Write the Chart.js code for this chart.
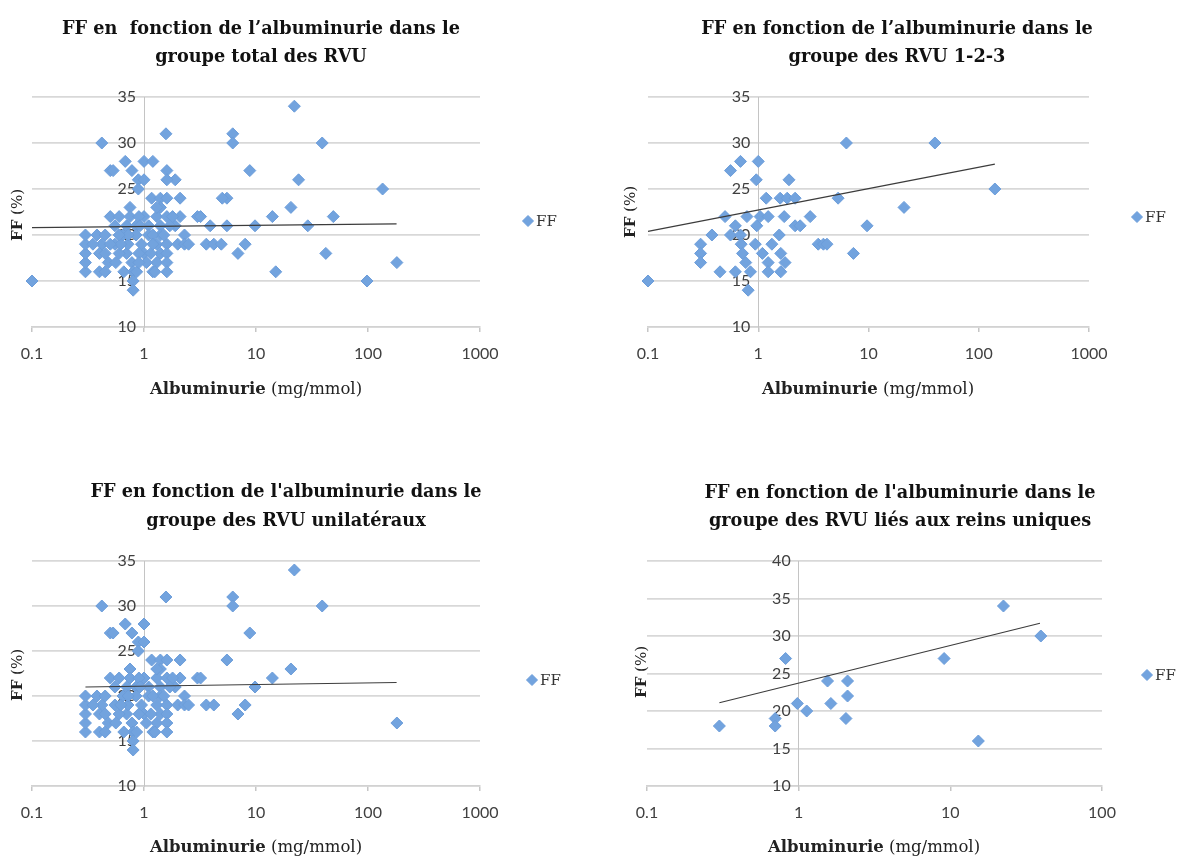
<!DOCTYPE html>
<html><head><meta charset="utf-8">
<script src="https://cdn.jsdelivr.net/npm/chart.js@4.4.1/dist/chart.umd.min.js"></script>
<style>
html,body{margin:0;padding:0;background:#fff;}
body{width:1184px;height:857px;position:relative;overflow:hidden;}
canvas{position:absolute;}
</style></head><body>
<canvas id="c1" width="592" height="420" style="left:0;top:0"></canvas>
<canvas id="c2" width="592" height="420" style="left:592px;top:0"></canvas>
<canvas id="c3" width="592" height="437" style="left:0;top:420px"></canvas>
<canvas id="c4" width="592" height="437" style="left:592px;top:420px"></canvas>
<script>
// ---------- tick labels ----------
const xTicksWide = [0.1, 1, 10, 100, 1000];
const xTicksUnique = [0.1, 1, 10, 100];
const yMaxWide = 35;
const yMaxUnique = 40;

// ---------- unilateral VUR (panel 3) ----------
const unilatAlb = [0.3,0.3,0.3,0.3,0.3,0.38,0.42,0.42,0.4,0.4,0.45,0.45,0.5,0.53,0.5,0.48,0.55,0.6,0.65,0.68,
  0.7,0.7,0.75,0.75,0.72,0.78,0.78,0.8,0.8,0.8,0.85,0.85,0.86,0.89,0.89,1.0,1.0,1.0,0.95,1.0,
  1.1,1.1,1.17,1.3,1.3,1.3,1.4,1.4,1.4,1.4,1.4,1.57,1.6,1.6,1.6,1.6,1.6,1.6,1.9,2.1,
  2.1,2.0,2.3,2.3,2.5,3.0,3.2,3.6,4.2,5.5,6.2,6.2,6.9,8.0,8.8,9.8,14,20.5,22,39,181,
  0.6,0.9,1.2,1.2,1.8,0.55,1.05,0.9,
  0.35,0.45,0.56,0.66,0.62,0.72,0.92,1.15,1.25,1.5,1.7,1.3];
const unilatFF = [16,17,18,19,20,20,30,19,18,16,16,20,27,27,22,17,19,22,20,28,
  18,21,23,22,19,17,27,16,15,14,21,20,16,26,25,28,26,22,19,18,
  21,20,24,22,19,17,24,23,21,20,18,31,24,22,19,18,17,16,21,24,
  22,19,20,19,19,22,22,19,19,24,31,30,18,19,27,21,22,23,34,30,17,
  18,22,20,16,22,21,17,18,
  19,18,17,16,19,20,21,18,16,20,21,23];

// ---------- points of the total group not in the unilateral group ----------
const otherAlb = [0.1,1.2,1.6,1.9,1.6,5.0,3.9,5.5,4.9,0.6,1.2,0.9,0.5,24,135,49,29,42,15,98];
const otherFF  = [15,28,27,26,26,24,21,21,19,20,19,17,19,26,25,22,21,18,16,15];

// ---------- total group (panel 1) ----------
const totalAlb = unilatAlb.concat(otherAlb);
const totalFF = unilatFF.concat(otherFF);

// ---------- VUR grade 1-2-3 (panel 2) ----------
const grade123Alb = [0.1,6.3,40,0.56,0.69,1.0,0.96,1.9,1.18,1.58,1.83,2.16,5.3,140,
  0.5,0.79,1.04,1.23,1.72,2.96,0.97,2.16,2.4,0.62,9.7,21,0.38,0.56,0.69,1.55,
  0.3,0.3,0.3,0.7,0.72,0.77,0.94,1.33,1.09,1.23,1.23,1.6,1.75,1.6,3.5,3.9,4.2,7.3,
  0.45,0.62,0.85,0.81];
const grade123FF = [15,30,30,27,28,28,26,26,24,24,24,24,24,25,
  22,22,22,22,22,22,21,21,21,21,21,23,20,20,20,20,
  19,18,17,19,18,17,19,19,18,17,16,18,17,16,19,19,19,18,
  16,16,16,14];

// ---------- solitary kidney VUR (panel 4) ----------
const uniqueAlb = [0.3,0.7,0.7,0.82,0.98,1.13,1.55,1.63,2.1,2.1,2.05,9.1,15.3,22.4,39.5];
const uniqueFF  = [18,19,18,27,21,20,24,21,24,22,19,27,16,34,30];

// ---------- trend lines (end points) ----------
const totalTrendAlb = [0.1, 180];   const totalTrendFF = [20.8, 21.2];
const grade123TrendAlb = [0.1, 140]; const grade123TrendFF = [20.4, 27.7];
const unilatTrendAlb = [0.3, 180];  const unilatTrendFF = [21.0, 21.5];
const uniqueTrendAlb = [0.3, 39];   const uniqueTrendFF = [21.1, 31.7];

// ---------- texts ----------
const seriesName = 'FF';
const xTitleBold = 'Albuminurie';
const xTitleRest = ' (mg/mmol)';
const yTitleBold = 'FF';
const yTitleRest = ' (%)';

const BLUE = 'rgb(114,163,222)';
const BLUE_EDGE = 'rgb(108,157,218)';
const TICK = '#404040';
const SERIF = '"DejaVu Serif", "Liberation Serif", serif';

function drawMixed(c, parts, size, cx, cy) {
  const fonts = parts.map(p => `${p[0]} ${size}px ${SERIF}`);
  const widths = parts.map((p, i) => { c.font = fonts[i]; return c.measureText(p[1]).width; });
  const total = widths.reduce((s, w) => s + w, 0);
  let x = cx - total / 2;
  c.textAlign = 'left';
  c.textBaseline = 'middle';
  parts.forEach((p, i) => { c.font = fonts[i]; c.fillText(p[1], x, cy); x += widths[i]; });
}

function textPlugin(cfg) {
  return {
    id: 'panelText',
    afterDraw(chart) {
      const c = chart.ctx;
      c.save();
      c.fillStyle = '#111';
      c.textAlign = 'center';
      c.textBaseline = 'middle';
      c.font = `bold 17.7px ${SERIF}`;
      cfg.title.forEach((t, i) => c.fillText(t, cfg.titleX, cfg.titleY[i]));
      c.fillStyle = '#222';
      drawMixed(c, [['bold', xTitleBold], ['normal', xTitleRest]], 16.5, cfg.xTitleX, cfg.xTitleY);
      c.save();
      c.translate(cfg.yTitleX, cfg.yTitleY);
      c.rotate(-Math.PI / 2);
      drawMixed(c, [['bold', yTitleBold], ['normal', yTitleRest]], 15, 0, 0);
      c.restore();
      // legend
      c.fillStyle = BLUE;
      c.strokeStyle = BLUE_EDGE;
      c.beginPath();
      c.moveTo(cfg.legX, cfg.legY - 5.5); c.lineTo(cfg.legX + 5.5, cfg.legY);
      c.lineTo(cfg.legX, cfg.legY + 5.5); c.lineTo(cfg.legX - 5.5, cfg.legY); c.closePath();
      c.fill(); c.stroke();
      c.fillStyle = '#333';
      c.font = `15px ${SERIF}`;
      c.textAlign = 'left';
      c.fillText(seriesName, cfg.legX + 8, cfg.legY + 1);
      c.restore();
    }
  };
}

function makeChart(id, cfg) {
  const pts = cfg.alb.map((a, i) => ({x: a, y: cfg.ff[i]}));
  const trend = cfg.trendAlb.map((a, i) => ({x: a, y: cfg.trendFF[i]}));
  return new Chart(document.getElementById(id), {
    type: 'scatter',
    data: {
      datasets: [
        {label: seriesName, data: pts, pointStyle: 'rectRot', pointRadius: 6, pointHoverRadius: 6,
         backgroundColor: BLUE, borderColor: BLUE_EDGE, borderWidth: 1, clip: false, order: 1},
        {label: 'Tendance', type: 'line', data: trend, borderColor: '#3c3c3c', borderWidth: 1.2,
         pointRadius: 0, fill: false, clip: false, order: 0}
      ]
    },
    options: {
      responsive: false,
      animation: false,
      events: [],
      layout: {padding: cfg.padding},
      plugins: {legend: {display: false}, title: {display: false}, tooltip: {enabled: false}},
      scales: {
        x: {
          type: 'logarithmic', position: 'bottom',
          min: cfg.xTicks[0], max: cfg.xTicks[cfg.xTicks.length - 1],
          afterBuildTicks: s => { s.ticks = cfg.xTicks.map(v => ({value: v})); },
          afterFit: s => { s.height = 40; },
          ticks: {autoSkip: false, maxRotation: 0, minRotation: 0, padding: 12, color: TICK,
                  font: {family: 'Lato', size: 16}, callback: v => String(v)},
          grid: {drawOnChartArea: false, drawTicks: true, tickLength: 5, color: '#c6c6c6', lineWidth: 1.5},
          border: {display: true, color: '#d2d2d2', width: 1.5}
        },
        y: {
          type: 'linear', position: {x: 1},
          min: 10, max: cfg.yMax,
          ticks: {stepSize: 5, padding: 7, color: TICK, font: {family: 'Lato', size: 16},
                  callback: v => String(v) + '\u2002'},
          grid: {color: '#d8d8d8', lineWidth: 1.8, drawTicks: false},
          border: {display: true, color: '#c4c4c4', width: 1}
        }
      }
    },
    plugins: [textPlugin(cfg)]
  });
}

makeChart('c1', {
  alb: totalAlb, ff: totalFF, trendAlb: totalTrendAlb, trendFF: totalTrendFF,
  xTicks: xTicksWide, yMax: yMaxWide,
  padding: {left: 32, top: 97, right: 112, bottom: 53},
  title: ['FF en  fonction de l\u2019albuminurie dans le', 'groupe total des RVU'],
  titleX: 261, titleY: [29, 57], xTitleX: 256, xTitleY: 390, yTitleX: 18, yTitleY: 215,
  legX: 528, legY: 221
});
makeChart('c2', {
  alb: grade123Alb, ff: grade123FF, trendAlb: grade123TrendAlb, trendFF: grade123TrendFF,
  xTicks: xTicksWide, yMax: yMaxWide,
  padding: {left: 56, top: 97, right: 95, bottom: 53},
  title: ['FF en fonction de l\u2019albuminurie dans le', 'groupe des RVU 1-2-3'],
  titleX: 305, titleY: [29, 57], xTitleX: 276, xTitleY: 390, yTitleX: 39, yTitleY: 212,
  legX: 545, legY: 217
});
makeChart('c3', {
  alb: unilatAlb, ff: unilatFF, trendAlb: unilatTrendAlb, trendFF: unilatTrendFF,
  xTicks: xTicksWide, yMax: yMaxWide,
  padding: {left: 32, top: 141, right: 112, bottom: 31},
  title: ['FF en fonction de l\'albuminurie dans le', 'groupe des RVU unilat\u00e9raux'],
  titleX: 286, titleY: [72, 101], xTitleX: 256, xTitleY: 428, yTitleX: 18, yTitleY: 255,
  legX: 532, legY: 260
});
makeChart('c4', {
  alb: uniqueAlb, ff: uniqueFF, trendAlb: uniqueTrendAlb, trendFF: uniqueTrendFF,
  xTicks: xTicksUnique, yMax: yMaxUnique,
  padding: {left: 55, top: 141, right: 82, bottom: 31},
  title: ['FF en fonction de l\'albuminurie dans le', 'groupe des RVU li\u00e9s aux reins uniques'],
  titleX: 308, titleY: [73, 101], xTitleX: 282, xTitleY: 428, yTitleX: 50, yTitleY: 252,
  legX: 555, legY: 255
});
</script>
</body></html>
